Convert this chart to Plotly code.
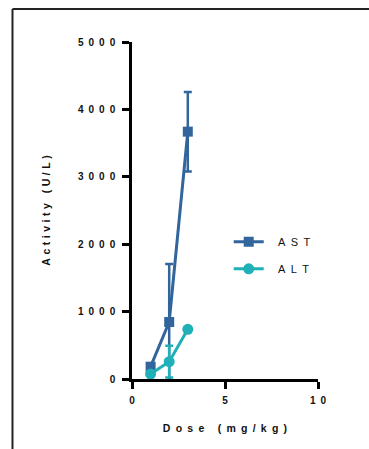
import plotly.graph_objects as go

# Data
dose = [1, 2, 3]
ast_mean = [183, 846, 3670]
ast_err = [40, 860, 590]
alt_mean = [74, 257, 737]
alt_err = [20, 235, 30]

y_ticks = [0, 1000, 2000, 3000, 4000, 5000]
x_ticks = [0, 5, 10]

EN = "\u2002"


def spaced(s, sep=EN):
    return sep.join(list(s))


AST_COLOR = "#31659B"
ALT_COLOR = "#1FB1B7"
FONT = "Arial, Liberation Sans, sans-serif"

fig = go.Figure()
fig.add_trace(go.Scatter(
    x=dose, y=ast_mean, name="\u2002\u2004" + spaced("AST"), mode="lines+markers",
    line=dict(color=AST_COLOR, width=3),
    marker=dict(symbol="square", size=10, color=AST_COLOR),
    error_y=dict(type="data", array=ast_err, color=AST_COLOR, thickness=2.5, width=4),
    cliponaxis=False, legendgroup="a",
))
fig.add_trace(go.Scatter(
    x=dose, y=alt_mean, name="\u2002\u2004" + spaced("ALT"), mode="lines+markers",
    line=dict(color=ALT_COLOR, width=3),
    marker=dict(symbol="circle", size=11, color=ALT_COLOR),
    error_y=dict(type="data", array=alt_err, color=ALT_COLOR, thickness=2.5, width=4),
    cliponaxis=False, legendgroup="b",
))

fig.update_layout(
    width=369, height=449,
    margin=dict(l=132, r=51, t=42, b=70),
    paper_bgcolor="white", plot_bgcolor="white",
    font=dict(family=FONT, color="#111"),
    showlegend=True,
    hovermode=False,
    legend=dict(x=0.52, y=0.45, xanchor="left", yanchor="top",
                font=dict(size=11, family=FONT, color="#111"),
                tracegroupgap=8, bgcolor="rgba(0,0,0,0)"),
    xaxis=dict(range=[0, 10], tickvals=x_ticks,
               ticktext=[spaced(str(v)) for v in x_ticks],
               showline=True, linewidth=2.5, linecolor="black",
               ticks="outside", ticklen=7, tickwidth=2.5, tickcolor="black",
               ticklabelstandoff=3,
               showgrid=False, zeroline=False,
               tickfont=dict(size=10, family=FONT, weight="bold", color="#111"),
               title=dict(text=spaced("Dose (mg/kg)"), standoff=20,
                          font=dict(size=10.5, family=FONT, weight="bold", color="#111"))),
    yaxis=dict(range=[0, 5000], tickvals=y_ticks,
               ticktext=[spaced(str(v)) for v in y_ticks],
               showline=True, linewidth=2.5, linecolor="black",
               ticks="outside", ticklen=7, tickwidth=2.5, tickcolor="black",
               ticklabelstandoff=5,
               showgrid=False, zeroline=False,
               tickfont=dict(size=10, family=FONT, weight="bold", color="#111"),
               title=dict(text=spaced("Activity (U/L)", "\u2004"), standoff=26,
                          font=dict(size=10.5, family=FONT, weight="bold", color="#111"))),
    shapes=[
        dict(type="line", xref="paper", yref="paper",
             x0=-0.6425, x1=1.6, y0=1.098, y1=1.098,
             line=dict(color="#222", width=2), layer="below"),
        dict(type="line", xref="paper", yref="paper",
             x0=-0.6425, x1=-0.6425, y0=-0.5, y1=1.098,
             line=dict(color="#222", width=2), layer="below"),
    ],
)

fig.write_html(
    "out.html",
    config={"displayModeBar": False},
    post_script="document.body.style.margin='0';document.body.style.overflow='hidden';",
)
